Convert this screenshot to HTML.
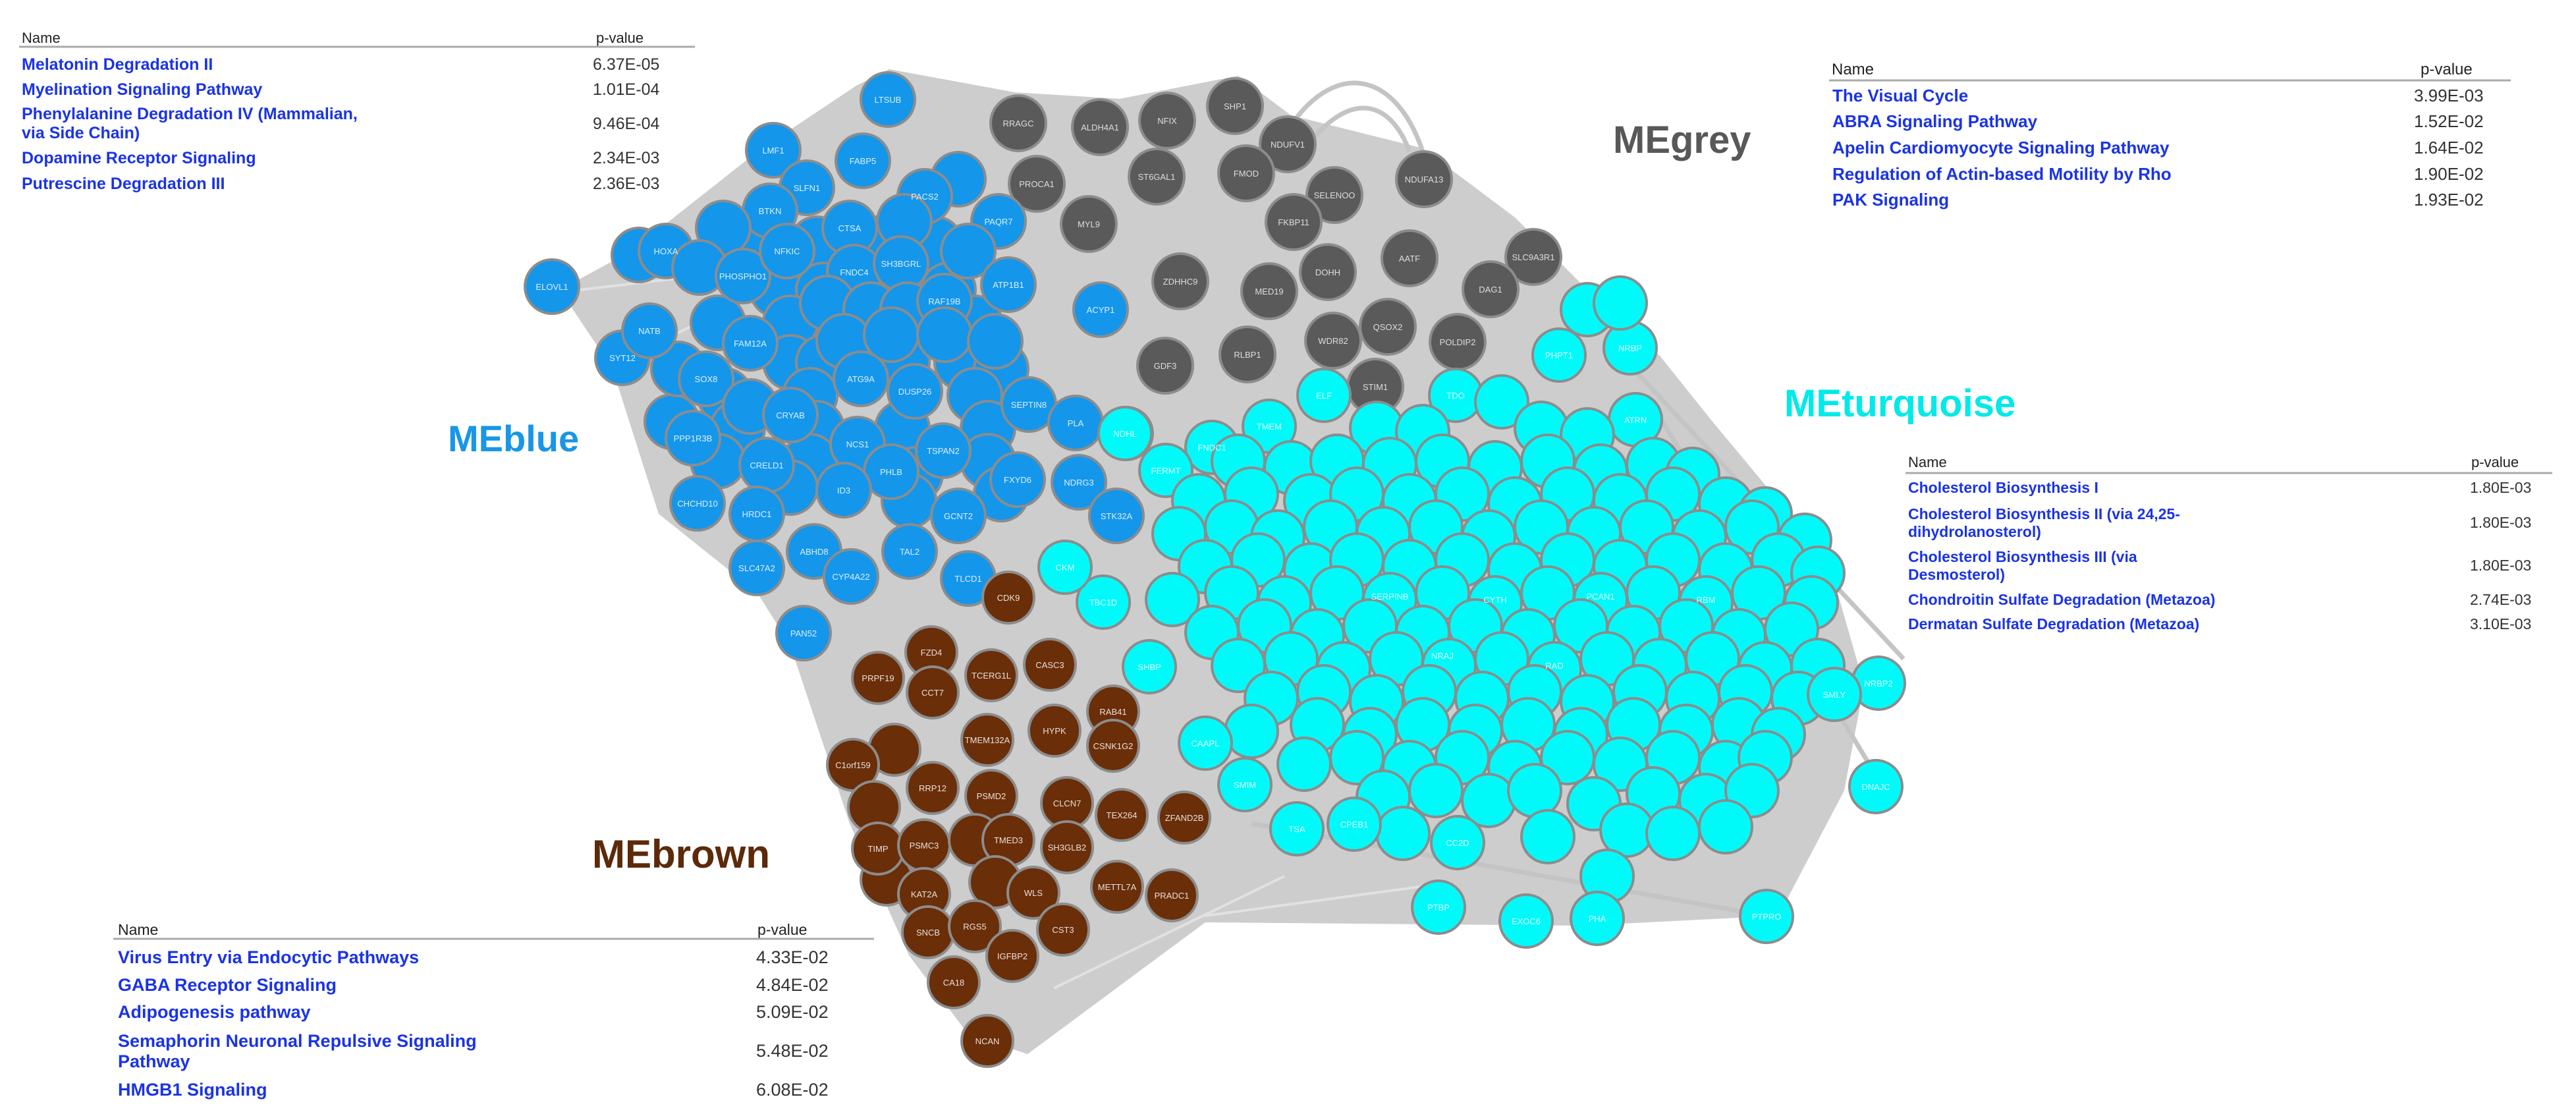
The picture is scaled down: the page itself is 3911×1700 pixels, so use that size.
<!DOCTYPE html>
<html><head><meta charset="utf-8">
<style>
html,body{margin:0;padding:0;background:#fff;}
svg{display:block;}
.b{fill:#1496eb;stroke:#8c8c8c;stroke-width:4}
.c{fill:#00fafa;stroke:#8c8c8c;stroke-width:4}
.g{fill:#5a5a5a;stroke:#8c8c8c;stroke-width:4}
.r{fill:#6a2e08;stroke:#8c8c8c;stroke-width:4}
.lb{font-family:"Liberation Sans",sans-serif;font-size:13px;fill:#fff;text-anchor:middle;opacity:.85}
.lg{font-family:"Liberation Sans",sans-serif;font-size:13px;fill:#ddd;text-anchor:middle}
.tn{font-family:"Liberation Sans",sans-serif;font-weight:bold;fill:#1a33e6}
.tp{font-family:"Liberation Sans",sans-serif;fill:#333}
.th{font-family:"Liberation Sans",sans-serif;fill:#222}
.me{font-family:"Liberation Sans",sans-serif;font-weight:bold}
</style></head>
<body>
<svg width="3911" height="1700" viewBox="0 0 3911 1700" xmlns="http://www.w3.org/2000/svg">
<!-- edge hull -->
<polygon fill="#cdcdcd" points="1350,105 1540,140 1700,150 1880,115 1960,175 2160,225 2300,330 2400,430 2520,540 2600,640 2700,760 2790,900 2830,1040 2800,1200 2700,1390 2400,1405 1830,1400 1560,1600 1470,1570 1380,1450 1290,1250 1200,980 1150,900 1000,780 930,560 850,440 960,380 1150,230 1300,130"/>
<g fill="none" stroke="#c4c4c4" stroke-width="7">
<path d="M1960,190 C2030,90 2120,110 2160,230"/>
<path d="M1990,215 C2050,140 2110,150 2140,230"/>
<path d="M2480,560 L2890,1000"/><path d="M2500,600 L2850,1180"/>
<path d="M1900,1250 L2680,1390"/>
</g>
<g fill="none" stroke="#e6e6e6" stroke-width="4" opacity=".8">
<path d="M1830,1390 L2200,1340"/><path d="M1600,1500 L1950,1330"/><path d="M880,440 L1050,420"/><path d="M1000,520 L1100,470"/>
</g>

<!-- grey nodes -->
<g class="g">
<circle cx="1546" cy="187" r="42"/><circle cx="1670" cy="193" r="42"/><circle cx="1772" cy="183" r="42"/><circle cx="1875" cy="161" r="42"/><circle cx="1955" cy="219" r="42"/>
<circle cx="1574" cy="279" r="42"/><circle cx="1756" cy="268" r="42"/><circle cx="1892" cy="263" r="42"/><circle cx="2026" cy="296" r="42"/><circle cx="1964" cy="337" r="42"/>
<circle cx="2162" cy="272" r="42"/><circle cx="1653" cy="340" r="42"/><circle cx="1792" cy="427" r="42"/><circle cx="1927" cy="442" r="42"/><circle cx="2016" cy="413" r="42"/>
<circle cx="2140" cy="392" r="42"/><circle cx="2328" cy="390" r="42"/><circle cx="2263" cy="439" r="42"/><circle cx="2107" cy="496" r="42"/><circle cx="2024" cy="517" r="42"/>
<circle cx="2213" cy="519" r="42"/><circle cx="1769" cy="555" r="42"/><circle cx="1894" cy="538" r="42"/><circle cx="2088" cy="587" r="42"/>
</g>
<g class="lg">
<text x="1546" y="192">RRAGC</text><text x="1670" y="198">ALDH4A1</text><text x="1772" y="188">NFIX</text><text x="1875" y="166">SHP1</text><text x="1955" y="224">NDUFV1</text>
<text x="1574" y="284">PROCA1</text><text x="1756" y="273">ST6GAL1</text><text x="1892" y="268">FMOD</text><text x="2026" y="301">SELENOO</text><text x="1964" y="342">FKBP11</text>
<text x="2162" y="277">NDUFA13</text><text x="1653" y="345">MYL9</text><text x="1792" y="432">ZDHHC9</text><text x="1927" y="447">MED19</text><text x="2016" y="418">DOHH</text>
<text x="2140" y="397">AATF</text><text x="2328" y="395">SLC9A3R1</text><text x="2263" y="444">DAG1</text><text x="2107" y="501">QSOX2</text><text x="2024" y="522">WDR82</text>
<text x="2213" y="524">POLDIP2</text><text x="1769" y="560">GDF3</text><text x="1894" y="543">RLBP1</text><text x="2088" y="592">STIM1</text>
</g>

<!-- blue nodes -->
<g class="b">
<circle cx="1120" cy="370" r="41"/><circle cx="1240" cy="370" r="41"/><circle cx="1330" cy="370" r="41"/><circle cx="1420" cy="370" r="41"/>
<circle cx="1180" cy="440" r="41"/><circle cx="1250" cy="440" r="41"/><circle cx="1440" cy="440" r="41"/>
<circle cx="1090" cy="490" r="41"/><circle cx="1200" cy="490" r="41"/><circle cx="1480" cy="490" r="41"/>
<circle cx="1200" cy="550" r="41"/><circle cx="1250" cy="550" r="41"/><circle cx="1370" cy="550" r="41"/><circle cx="1460" cy="550" r="41"/><circle cx="1520" cy="560" r="41"/>
<circle cx="1100" cy="600" r="41"/><circle cx="1230" cy="600" r="41"/><circle cx="1480" cy="600" r="41"/>
<circle cx="1120" cy="650" r="41"/><circle cx="1240" cy="650" r="41"/><circle cx="1370" cy="650" r="41"/><circle cx="1500" cy="650" r="41"/>
<circle cx="1090" cy="700" r="41"/><circle cx="1230" cy="700" r="41"/><circle cx="1390" cy="720" r="41"/><circle cx="1500" cy="700" r="41"/>
<circle cx="1200" cy="740" r="41"/><circle cx="1380" cy="760" r="41"/><circle cx="1520" cy="750" r="41"/><circle cx="1020" cy="640" r="41"/><circle cx="1030" cy="560" r="41"/>
<circle cx="1348" cy="151" r="41"/><circle cx="1174" cy="228" r="41"/><circle cx="1310" cy="244" r="41"/><circle cx="1225" cy="285" r="41"/><circle cx="1455" cy="272" r="41"/>
<circle cx="1404" cy="298" r="41"/><circle cx="1516" cy="336" r="41"/><circle cx="1169" cy="320" r="41"/><circle cx="1098" cy="346" r="41"/><circle cx="970" cy="387" r="41"/>
<circle cx="1011" cy="381" r="41"/><circle cx="838" cy="435" r="41"/><circle cx="1062" cy="406" r="41"/><circle cx="1128" cy="419" r="41"/><circle cx="1195" cy="381" r="41"/>
<circle cx="1290" cy="346" r="41"/><circle cx="1373" cy="336" r="41"/><circle cx="1297" cy="413" r="41"/><circle cx="1368" cy="400" r="41"/><circle cx="1470" cy="381" r="41"/>
<circle cx="1531" cy="432" r="41"/><circle cx="945" cy="543" r="41"/><circle cx="986" cy="502" r="41"/><circle cx="1139" cy="521" r="41"/><circle cx="1256" cy="460" r="41"/>
<circle cx="1322" cy="470" r="41"/><circle cx="1378" cy="470" r="41"/><circle cx="1434" cy="457" r="41"/><circle cx="1281" cy="518" r="41"/><circle cx="1353" cy="508" r="41"/>
<circle cx="1434" cy="508" r="41"/><circle cx="1511" cy="518" r="41"/><circle cx="1307" cy="575" r="41"/><circle cx="1389" cy="594" r="41"/><circle cx="1072" cy="575" r="41"/>
<circle cx="1139" cy="617" r="41"/><circle cx="1200" cy="630" r="41"/><circle cx="1562" cy="614" r="41"/><circle cx="1633" cy="642" r="41"/><circle cx="1052" cy="665" r="41"/>
<circle cx="1302" cy="674" r="41"/><circle cx="1432" cy="684" r="41"/><circle cx="1164" cy="706" r="41"/><circle cx="1353" cy="716" r="41"/><circle cx="1545" cy="728" r="41"/>
<circle cx="1638" cy="732" r="41"/><circle cx="1059" cy="764" r="41"/><circle cx="1149" cy="780" r="41"/><circle cx="1281" cy="744" r="41"/><circle cx="1455" cy="783" r="41"/>
<circle cx="1695" cy="783" r="41"/><circle cx="1236" cy="837" r="41"/><circle cx="1381" cy="837" r="41"/><circle cx="1149" cy="862" r="41"/><circle cx="1292" cy="875" r="41"/>
<circle cx="1470" cy="878" r="41"/><circle cx="1220" cy="961" r="41"/><circle cx="1671" cy="470" r="41"/>
</g>
<g class="lb">
<text x="1348" y="156">LTSUB</text><text x="1174" y="233">LMF1</text><text x="1310" y="249">FABP5</text><text x="1225" y="290">SLFN1</text><text x="1404" y="303">PACS2</text>
<text x="1516" y="341">PAQR7</text><text x="1169" y="325">BTKN</text><text x="838" y="440">ELOVL1</text><text x="1011" y="386">HOXA</text><text x="1128" y="424">PHOSPHO1</text>
<text x="1195" y="386">NFKIC</text><text x="1290" y="351">CTSA</text><text x="1297" y="418">FNDC4</text><text x="1368" y="405">SH3BGRL</text><text x="1531" y="437">ATP1B1</text>
<text x="986" y="507">NATB</text><text x="945" y="548">SYT12</text><text x="1139" y="526">FAM12A</text><text x="1434" y="462">RAF19B</text><text x="1307" y="580">ATG9A</text>
<text x="1389" y="599">DUSP26</text><text x="1072" y="580">SOX8</text><text x="1200" y="635">CRYAB</text><text x="1562" y="619">SEPTIN8</text><text x="1633" y="647">PLA</text>
<text x="1052" y="670">PPP1R3B</text><text x="1302" y="679">NCS1</text><text x="1432" y="689">TSPAN2</text><text x="1164" y="711">CRELD1</text><text x="1353" y="721">PHLB</text>
<text x="1545" y="733">FXYD6</text><text x="1638" y="737">NDRG3</text><text x="1059" y="769">CHCHD10</text><text x="1149" y="785">HRDC1</text><text x="1281" y="749">ID3</text>
<text x="1455" y="788">GCNT2</text><text x="1695" y="788">STK32A</text><text x="1236" y="842">ABHD8</text><text x="1381" y="842">TAL2</text><text x="1149" y="867">SLC47A2</text>
<text x="1292" y="880">CYP4A22</text><text x="1470" y="883">TLCD1</text><text x="1220" y="966">PAN52</text><text x="1671" y="475">ACYP1</text>
</g>

<!-- brown nodes -->
<g class="r">
<circle cx="1531" cy="907" r="39"/><circle cx="1414" cy="990" r="39"/><circle cx="1594" cy="1009" r="39"/><circle cx="1333" cy="1029" r="39"/><circle cx="1505" cy="1025" r="39"/>
<circle cx="1416" cy="1051" r="39"/><circle cx="1690" cy="1080" r="39"/><circle cx="1601" cy="1109" r="39"/><circle cx="1499" cy="1123" r="39"/><circle cx="1690" cy="1132" r="39"/>
<circle cx="1358" cy="1138" r="39"/><circle cx="1295" cy="1161" r="39"/><circle cx="1327" cy="1225" r="39"/><circle cx="1416" cy="1196" r="39"/><circle cx="1505" cy="1208" r="39"/>
<circle cx="1620" cy="1219" r="39"/><circle cx="1703" cy="1237" r="39"/><circle cx="1798" cy="1241" r="39"/><circle cx="1346" cy="1335" r="39"/><circle cx="1333" cy="1288" r="39"/>
<circle cx="1403" cy="1283" r="39"/><circle cx="1480" cy="1275" r="39"/><circle cx="1531" cy="1275" r="39"/><circle cx="1620" cy="1286" r="39"/><circle cx="1511" cy="1339" r="39"/>
<circle cx="1403" cy="1357" r="39"/><circle cx="1569" cy="1355" r="39"/><circle cx="1696" cy="1346" r="39"/><circle cx="1779" cy="1359" r="39"/><circle cx="1409" cy="1415" r="39"/>
<circle cx="1480" cy="1406" r="39"/><circle cx="1614" cy="1411" r="39"/><circle cx="1537" cy="1451" r="39"/><circle cx="1448" cy="1491" r="39"/><circle cx="1499" cy="1580" r="39"/>
</g>
<g class="lb">
<text x="1531" y="912">CDK9</text><text x="1414" y="995">FZD4</text><text x="1594" y="1014">CASC3</text><text x="1333" y="1034">PRPF19</text><text x="1505" y="1030">TCERG1L</text>
<text x="1416" y="1056">CCT7</text><text x="1690" y="1085">RAB41</text><text x="1601" y="1114">HYPK</text><text x="1499" y="1128">TMEM132A</text><text x="1690" y="1137">CSNK1G2</text>
<text x="1295" y="1166">C1orf159</text><text x="1416" y="1201">RRP12</text><text x="1505" y="1213">PSMD2</text><text x="1620" y="1224">CLCN7</text><text x="1703" y="1242">TEX264</text>
<text x="1798" y="1246">ZFAND2B</text><text x="1333" y="1293">TIMP</text><text x="1403" y="1288">PSMC3</text><text x="1531" y="1280">TMED3</text><text x="1620" y="1291">SH3GLB2</text>
<text x="1403" y="1362">KAT2A</text><text x="1569" y="1360">WLS</text><text x="1696" y="1351">METTL7A</text><text x="1779" y="1364">PRADC1</text><text x="1409" y="1420">SNCB</text>
<text x="1480" y="1411">RGS5</text><text x="1614" y="1416">CST3</text><text x="1537" y="1456">IGFBP2</text><text x="1448" y="1496">CA18</text><text x="1499" y="1585">NCAN</text>
</g>

<!-- cyan nodes -->
<g class="c">
<circle cx="2367" cy="539" r="40"/><circle cx="2475" cy="528" r="40"/><circle cx="2483" cy="637" r="40"/><circle cx="2410" cy="470" r="40"/><circle cx="2460" cy="460" r="40"/>
<circle cx="2010" cy="600" r="40"/><circle cx="2210" cy="600" r="40"/><circle cx="2280" cy="610" r="40"/>
<circle cx="1710" cy="658" r="40"/><circle cx="1840" cy="679" r="40"/><circle cx="1927" cy="647" r="40"/><circle cx="2090" cy="650" r="40"/><circle cx="2160" cy="655" r="40"/><circle cx="2340" cy="650" r="40"/><circle cx="2410" cy="660" r="40"/>
<circle cx="1770" cy="714" r="40"/><circle cx="1880" cy="700" r="40"/><circle cx="1960" cy="710" r="40"/><circle cx="2030" cy="700" r="40"/><circle cx="2110" cy="705" r="40"/><circle cx="2190" cy="700" r="40"/><circle cx="2270" cy="710" r="40"/><circle cx="2350" cy="700" r="40"/><circle cx="2430" cy="715" r="40"/><circle cx="2510" cy="705" r="40"/><circle cx="2570" cy="720" r="40"/>
<circle cx="1820" cy="760" r="40"/><circle cx="1900" cy="750" r="40"/><circle cx="1990" cy="760" r="40"/><circle cx="2060" cy="750" r="40"/><circle cx="2140" cy="760" r="40"/><circle cx="2220" cy="750" r="40"/><circle cx="2300" cy="765" r="40"/><circle cx="2380" cy="750" r="40"/><circle cx="2460" cy="760" r="40"/><circle cx="2540" cy="750" r="40"/><circle cx="2620" cy="765" r="40"/><circle cx="2680" cy="780" r="40"/>
<circle cx="1790" cy="810" r="40"/><circle cx="1870" cy="800" r="40"/><circle cx="1940" cy="815" r="40"/><circle cx="2020" cy="800" r="40"/><circle cx="2100" cy="810" r="40"/><circle cx="2180" cy="800" r="40"/><circle cx="2260" cy="815" r="40"/><circle cx="2340" cy="800" r="40"/><circle cx="2420" cy="810" r="40"/><circle cx="2500" cy="800" r="40"/><circle cx="2580" cy="815" r="40"/><circle cx="2660" cy="800" r="40"/><circle cx="2740" cy="820" r="40"/>
<circle cx="1830" cy="860" r="40"/><circle cx="1910" cy="850" r="40"/><circle cx="1990" cy="865" r="40"/><circle cx="2060" cy="850" r="40"/><circle cx="2140" cy="860" r="40"/><circle cx="2220" cy="850" r="40"/><circle cx="2300" cy="865" r="40"/><circle cx="2380" cy="850" r="40"/><circle cx="2460" cy="860" r="40"/><circle cx="2540" cy="850" r="40"/><circle cx="2620" cy="865" r="40"/><circle cx="2700" cy="850" r="40"/><circle cx="2760" cy="870" r="40"/>
<circle cx="1780" cy="910" r="40"/><circle cx="1870" cy="900" r="40"/><circle cx="1950" cy="915" r="40"/><circle cx="2030" cy="900" r="40"/><circle cx="2110" cy="910" r="40"/><circle cx="2190" cy="900" r="40"/><circle cx="2270" cy="915" r="40"/><circle cx="2350" cy="900" r="40"/><circle cx="2430" cy="910" r="40"/><circle cx="2510" cy="900" r="40"/><circle cx="2590" cy="915" r="40"/><circle cx="2670" cy="900" r="40"/><circle cx="2750" cy="915" r="40"/>
<circle cx="1840" cy="960" r="40"/><circle cx="1920" cy="950" r="40"/><circle cx="2000" cy="965" r="40"/><circle cx="2080" cy="950" r="40"/><circle cx="2160" cy="960" r="40"/><circle cx="2240" cy="950" r="40"/><circle cx="2320" cy="965" r="40"/><circle cx="2400" cy="950" r="40"/><circle cx="2480" cy="960" r="40"/><circle cx="2560" cy="950" r="40"/><circle cx="2640" cy="965" r="40"/><circle cx="2720" cy="955" r="40"/>
<circle cx="1880" cy="1010" r="40"/><circle cx="1960" cy="1000" r="40"/><circle cx="2040" cy="1015" r="40"/><circle cx="2120" cy="1000" r="40"/><circle cx="2200" cy="1010" r="40"/><circle cx="2280" cy="1000" r="40"/><circle cx="2360" cy="1015" r="40"/><circle cx="2440" cy="1000" r="40"/><circle cx="2520" cy="1010" r="40"/><circle cx="2600" cy="1000" r="40"/><circle cx="2680" cy="1015" r="40"/><circle cx="2760" cy="1010" r="40"/>
<circle cx="1930" cy="1060" r="40"/><circle cx="2010" cy="1050" r="40"/><circle cx="2090" cy="1065" r="40"/><circle cx="2170" cy="1050" r="40"/><circle cx="2250" cy="1060" r="40"/><circle cx="2330" cy="1050" r="40"/><circle cx="2410" cy="1065" r="40"/><circle cx="2490" cy="1050" r="40"/><circle cx="2570" cy="1060" r="40"/><circle cx="2650" cy="1050" r="40"/><circle cx="2730" cy="1060" r="40"/>
<circle cx="1900" cy="1110" r="40"/><circle cx="2000" cy="1100" r="40"/><circle cx="2080" cy="1115" r="40"/><circle cx="2160" cy="1100" r="40"/><circle cx="2240" cy="1110" r="40"/><circle cx="2320" cy="1100" r="40"/><circle cx="2400" cy="1115" r="40"/><circle cx="2480" cy="1100" r="40"/><circle cx="2560" cy="1110" r="40"/><circle cx="2640" cy="1100" r="40"/><circle cx="2700" cy="1115" r="40"/>
<circle cx="1980" cy="1160" r="40"/><circle cx="2060" cy="1150" r="40"/><circle cx="2140" cy="1165" r="40"/><circle cx="2220" cy="1150" r="40"/><circle cx="2300" cy="1165" r="40"/><circle cx="2380" cy="1150" r="40"/><circle cx="2460" cy="1160" r="40"/><circle cx="2540" cy="1150" r="40"/><circle cx="2620" cy="1165" r="40"/><circle cx="2680" cy="1150" r="40"/>
<circle cx="2100" cy="1210" r="40"/><circle cx="2180" cy="1200" r="40"/><circle cx="2260" cy="1215" r="40"/><circle cx="2330" cy="1200" r="40"/><circle cx="2420" cy="1220" r="40"/><circle cx="2510" cy="1205" r="40"/><circle cx="2590" cy="1215" r="40"/><circle cx="2660" cy="1200" r="40"/>
<circle cx="2130" cy="1265" r="40"/><circle cx="2213" cy="1279" r="40"/><circle cx="2350" cy="1270" r="40"/><circle cx="2470" cy="1260" r="40"/><circle cx="2540" cy="1265" r="40"/><circle cx="2620" cy="1255" r="40"/><circle cx="2440" cy="1330" r="40"/>
<circle cx="2852" cy="1037" r="40"/><circle cx="2785" cy="1054" r="40"/><circle cx="2848" cy="1194" r="40"/><circle cx="2682" cy="1391" r="40"/><circle cx="2425" cy="1394" r="40"/>
<circle cx="2317" cy="1398" r="40"/><circle cx="2184" cy="1377" r="40"/><circle cx="1969" cy="1258" r="40"/><circle cx="2056" cy="1251" r="40"/><circle cx="1890" cy="1191" r="40"/>
<circle cx="1830" cy="1128" r="40"/><circle cx="1745" cy="1012" r="40"/><circle cx="1675" cy="914" r="40"/><circle cx="1617" cy="861" r="40"/><circle cx="1708" cy="658" r="40"/>
</g>
<g class="lb">
<text x="2367" y="544">PHPT1</text><text x="2475" y="533">NRBP</text><text x="2483" y="642">ATRN</text><text x="1708" y="663">NDHL</text><text x="1840" y="684">FNDC1</text>
<text x="1770" y="719">FERMT</text><text x="1927" y="652">TMEM</text><text x="2010" y="605">ELF</text><text x="2210" y="605">TDO</text><text x="2852" y="1042">NRBP2</text>
<text x="2785" y="1059">SMLY</text><text x="2848" y="1199">DNAJC</text><text x="2682" y="1396">PTPRO</text><text x="2425" y="1399">PHA</text><text x="2317" y="1403">EXOC6</text>
<text x="2184" y="1382">PTBP</text><text x="2213" y="1284">CC2D</text><text x="1969" y="1263">TSA</text><text x="2056" y="1256">CPEB1</text><text x="1890" y="1196">SMIM</text>
<text x="1830" y="1133">CAAPL</text><text x="1745" y="1017">SHBP</text><text x="1675" y="919">TBC1D</text><text x="1617" y="866">CKM</text>
<text x="2110" y="910">SERPINB</text><text x="2270" y="915">CYTH</text><text x="2430" y="910">PCAN1</text><text x="2590" y="915">RBM</text><text x="2190" y="1000">NRAJ</text><text x="2360" y="1015">RAD</text>
</g>

<!-- module labels -->
<text class="me" x="680" y="685" font-size="56" fill="#1996e6">MEblue</text>
<text class="me" x="2449" y="232" font-size="58" fill="#585858">MEgrey</text>
<text class="me" x="2709" y="632" font-size="58" fill="#00eaea">MEturquoise</text>
<text class="me" x="899" y="1317" font-size="60" fill="#5c2a0a">MEbrown</text>

<!-- table top-left -->
<text class="th" x="33" y="65" font-size="22">Name</text><text class="th" x="905" y="65" font-size="22">p-value</text>
<line x1="29" y1="71" x2="1055" y2="71" stroke="#aaa" stroke-width="3"/>
<g font-size="25">
<text class="tn" x="33" y="106">Melatonin Degradation II</text><text class="tp" x="900" y="106">6.37E-05</text>
<text class="tn" x="33" y="144">Myelination Signaling Pathway</text><text class="tp" x="900" y="144">1.01E-04</text>
<text class="tn" x="33" y="181">Phenylalanine Degradation IV (Mammalian,</text><text class="tn" x="33" y="210">via Side Chain)</text><text class="tp" x="900" y="196">9.46E-04</text>
<text class="tn" x="33" y="248">Dopamine Receptor Signaling</text><text class="tp" x="900" y="248">2.34E-03</text>
<text class="tn" x="33" y="287">Putrescine Degradation III</text><text class="tp" x="900" y="287">2.36E-03</text>
</g>

<!-- table top-right -->
<text class="th" x="2781" y="113" font-size="24">Name</text><text class="th" x="3675" y="113" font-size="24">p-value</text>
<line x1="2777" y1="122" x2="3812" y2="122" stroke="#aaa" stroke-width="3"/>
<g font-size="26">
<text class="tn" x="2782" y="154">The Visual Cycle</text><text class="tp" x="3665" y="154">3.99E-03</text>
<text class="tn" x="2782" y="193">ABRA Signaling Pathway</text><text class="tp" x="3665" y="193">1.52E-02</text>
<text class="tn" x="2782" y="233">Apelin Cardiomyocyte Signaling Pathway</text><text class="tp" x="3665" y="233">1.64E-02</text>
<text class="tn" x="2782" y="273">Regulation of Actin-based Motility by Rho</text><text class="tp" x="3665" y="273">1.90E-02</text>
<text class="tn" x="2782" y="312">PAK Signaling</text><text class="tp" x="3665" y="312">1.93E-02</text>
</g>

<!-- table right -->
<text class="th" x="2897" y="709" font-size="22">Name</text><text class="th" x="3752" y="709" font-size="22">p-value</text>
<line x1="2893" y1="718" x2="3875" y2="718" stroke="#aaa" stroke-width="3"/>
<g font-size="23">
<text class="tn" x="2897" y="748">Cholesterol Biosynthesis I</text><text class="tp" x="3750" y="748">1.80E-03</text>
<text class="tn" x="2897" y="788">Cholesterol Biosynthesis II (via 24,25-</text><text class="tn" x="2897" y="815">dihydrolanosterol)</text><text class="tp" x="3750" y="801">1.80E-03</text>
<text class="tn" x="2897" y="853">Cholesterol Biosynthesis III (via</text><text class="tn" x="2897" y="880">Desmosterol)</text><text class="tp" x="3750" y="866">1.80E-03</text>
<text class="tn" x="2897" y="918">Chondroitin Sulfate Degradation (Metazoa)</text><text class="tp" x="3750" y="918">2.74E-03</text>
<text class="tn" x="2897" y="955">Dermatan Sulfate Degradation (Metazoa)</text><text class="tp" x="3750" y="955">3.10E-03</text>
</g>

<!-- table bottom-left -->
<text class="th" x="179" y="1419" font-size="23">Name</text><text class="th" x="1150" y="1419" font-size="23">p-value</text>
<line x1="172" y1="1425" x2="1327" y2="1425" stroke="#aaa" stroke-width="3"/>
<g font-size="27">
<text class="tn" x="179" y="1462">Virus Entry via Endocytic Pathways</text><text class="tp" x="1148" y="1462">4.33E-02</text>
<text class="tn" x="179" y="1504">GABA Receptor Signaling</text><text class="tp" x="1148" y="1504">4.84E-02</text>
<text class="tn" x="179" y="1545">Adipogenesis pathway</text><text class="tp" x="1148" y="1545">5.09E-02</text>
<text class="tn" x="179" y="1589">Semaphorin Neuronal Repulsive Signaling</text><text class="tn" x="179" y="1620">Pathway</text><text class="tp" x="1148" y="1604">5.48E-02</text>
<text class="tn" x="179" y="1663">HMGB1 Signaling</text><text class="tp" x="1148" y="1663">6.08E-02</text>
</g>
</svg>
</body></html>
